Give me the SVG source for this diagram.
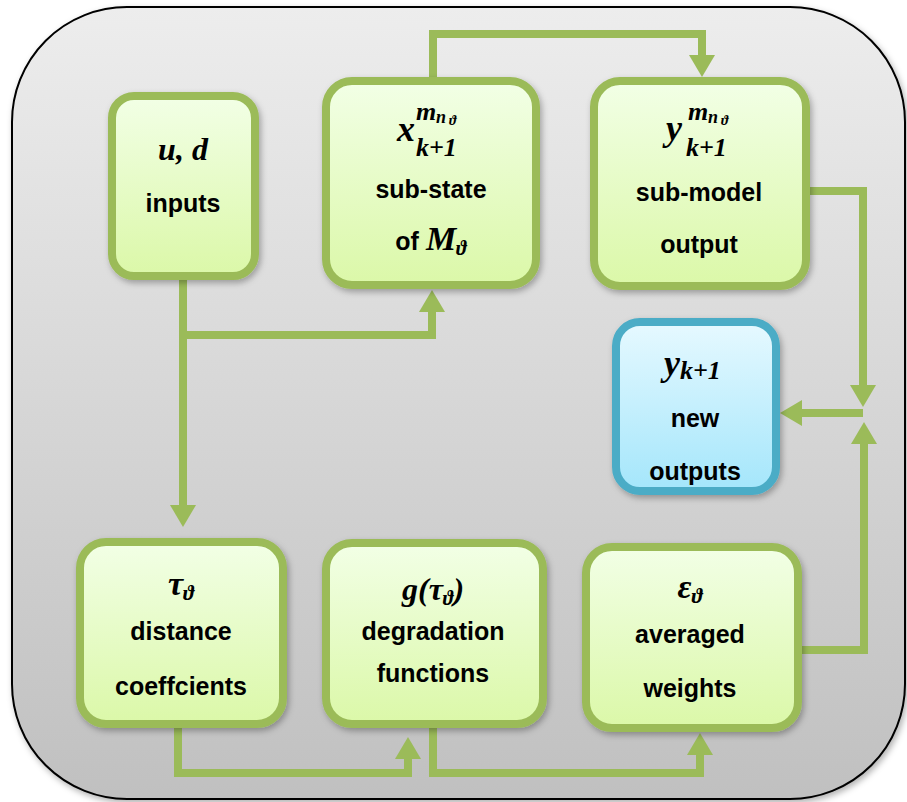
<svg xmlns="http://www.w3.org/2000/svg" width="907" height="802" viewBox="0 0 907 802">
<defs>
  <linearGradient id="bg" x1="0" y1="0" x2="0" y2="1">
    <stop offset="0" stop-color="#ededed"/>
    <stop offset="1" stop-color="#c0c0c0"/>
  </linearGradient>
  <linearGradient id="gfill" x1="0" y1="0" x2="0" y2="1">
    <stop offset="0" stop-color="#f2ffe6"/>
    <stop offset="1" stop-color="#dbf8a8"/>
  </linearGradient>
  <linearGradient id="bfill" x1="0" y1="0" x2="0" y2="1">
    <stop offset="0" stop-color="#e6f9ff"/>
    <stop offset="1" stop-color="#a4e6fb"/>
  </linearGradient>
  <filter id="sh" x="-20%" y="-20%" width="140%" height="140%">
    <feDropShadow dx="2" dy="3" stdDeviation="3" flood-color="#000" flood-opacity="0.3"/>
  </filter>
  <marker id="ah" markerUnits="userSpaceOnUse" markerWidth="24" markerHeight="28" viewBox="0 -14 24 28" refX="0" refY="0" orient="auto">
    <path d="M0,-13 L22,0 L0,13 Z" fill="#9bbb59"/>
  </marker>
  <style>
    .g { fill: url(#gfill); stroke: #9bbb59; stroke-width: 8; filter: url(#sh); }
    .b { fill: url(#bfill); stroke: #4bacc6; stroke-width: 8; filter: url(#sh); }
    .lbl { font-family: "Liberation Sans", Arial, sans-serif; font-weight: bold; font-size: 25px; fill: #000; text-anchor: middle; }
    .m { font-family: "Liberation Serif", "Times New Roman", serif; font-weight: bold; font-style: italic; fill: #000; }
    .c { fill: none; stroke: #9bbb59; stroke-width: 8; marker-end: url(#ah); }
  </style>
</defs>

<rect x="12" y="7" width="893" height="792" rx="115" ry="115" fill="url(#bg)" stroke="#000" stroke-width="2" filter="url(#sh)"/>

<g id="connectors">
  <path class="c" d="M183,280 V335 H432 V312"/>
  <path class="c" d="M183,335 V505"/>
  <path class="c" d="M433,78 V34 H702 V55"/>
  <path class="c" d="M808,191 H863 V385"/>
  <path class="c" d="M863,413 H802"/>
  <path class="c" d="M800,650 H864 V444"/>
  <path class="c" d="M178,728 V773 H408 V759"/>
  <path class="c" d="M433,728 V773 H700 V755"/>
</g>

<g id="inputs">
  <rect class="g" x="112" y="96" width="143" height="180" rx="22"/>
  <text class="m" x="183" y="160" font-size="32" text-anchor="middle">u, d</text>
  <text class="lbl" x="183" y="212">inputs</text>
</g>

<g id="substate">
  <rect class="g" x="326" y="81" width="210" height="204" rx="26"/>
  <text class="m" font-size="36"><tspan x="397" y="141">x</tspan><tspan x="416" y="120" font-size="26">m</tspan><tspan x="436" y="123" font-size="18">n</tspan><tspan x="449" y="125" font-size="14">ϑ</tspan><tspan x="416" y="156" font-size="26">k+1</tspan></text>
  <text class="lbl" x="431" y="198">sub-state</text>
  <text class="lbl" x="431" y="250"><tspan>of </tspan><tspan class="m" font-size="34">M</tspan><tspan class="m" font-size="20" dy="5">ϑ</tspan></text>
</g>

<g id="submodel">
  <rect class="g" x="594" y="81" width="212" height="205" rx="26"/>
  <text class="m" font-size="36"><tspan x="666" y="140">y</tspan><tspan x="688" y="120" font-size="26">m</tspan><tspan x="708" y="123" font-size="18">n</tspan><tspan x="721" y="125" font-size="14">ϑ</tspan><tspan x="686" y="156" font-size="26">k+1</tspan></text>
  <text class="lbl" x="699" y="201">sub-model</text>
  <text class="lbl" x="699" y="253">output</text>
</g>

<g id="newoutputs">
  <rect class="b" x="616" y="322" width="160" height="169" rx="24"/>
  <text class="m" x="664" y="375" font-size="36">y<tspan font-size="26" dy="4">k+1</tspan></text>
  <text class="lbl" x="695" y="427">new</text>
  <text class="lbl" x="695" y="480">outputs</text>
</g>

<g id="distance">
  <rect class="g" x="80" y="542" width="203" height="182" rx="26"/>
  <text class="m" x="181" y="595" font-size="34" text-anchor="middle">τ<tspan font-size="21" dy="5">ϑ</tspan></text>
  <text class="lbl" x="181" y="640">distance</text>
  <text class="lbl" x="181" y="695">coeffcients</text>
</g>

<g id="degradation">
  <rect class="g" x="326" y="543" width="217" height="181" rx="26"/>
  <text class="m" x="433" y="600" font-size="32" text-anchor="middle">g(τ<tspan font-size="20" dy="5">ϑ</tspan><tspan dy="-5">)</tspan></text>
  <text class="lbl" x="433" y="640">degradation</text>
  <text class="lbl" x="433" y="682">functions</text>
</g>

<g id="averaged">
  <rect class="g" x="586" y="547" width="212" height="181" rx="26"/>
  <text class="m" x="690" y="598" font-size="34" text-anchor="middle">ε<tspan font-size="21" dy="5">ϑ</tspan></text>
  <text class="lbl" x="690" y="643">averaged</text>
  <text class="lbl" x="690" y="697">weights</text>
</g>
</svg>
